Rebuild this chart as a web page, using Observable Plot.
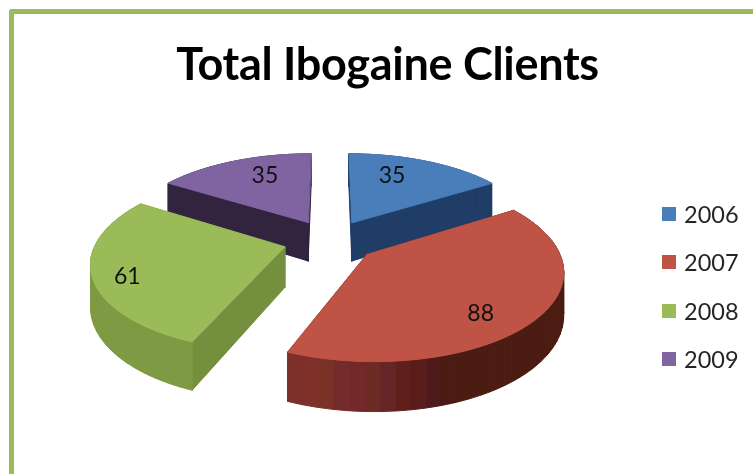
<!DOCTYPE html>
<html>
<head>
<meta charset="utf-8">
<script src="https://cdn.jsdelivr.net/npm/d3@7"></script>
<script src="https://cdn.jsdelivr.net/npm/@observablehq/plot@0.6"></script>
<style>
html,body{margin:0;padding:0;width:753px;height:474px;overflow:hidden;background:#fff;font-family:Lato,sans-serif}
#frame{position:absolute;left:9px;top:9px;width:800px;height:520px;border-top:5px solid #9bbb59;border-left:5px solid #9bbb59;border-top-left-radius:3px;box-sizing:border-box}
#title{position:absolute;left:0;width:775px;top:33px;text-align:center;font-size:45px;line-height:60px;font-weight:700;color:#000;white-space:nowrap;letter-spacing:-0.3px;filter:blur(.4px)}
#plot{position:absolute;left:0;top:0;filter:blur(.4px)}
#legend{position:absolute;left:662px;top:190px;filter:blur(.3px)}
.row{position:absolute;left:0;display:flex;align-items:center;height:28px;white-space:nowrap;font-size:23.5px;color:#262626}
.sw{width:14px;height:14px;margin-right:8px;display:inline-block}
</style>
</head>
<body>
<div id="frame"></div>
<div id="title">Total Ibogaine Clients</div>
<div id="plot"></div>
<div id="legend"></div>
<script>
const years = ["2006", "2007", "2008", "2009"];
const clients = [35, 88, 61, 35];
const topColors = ["#4a7ebb", "#be5346", "#9bbb59", "#8064a2"];
const sideColors = ["#1f3d66", "#6e2a26", "#748f3d", "#32233f"];
// outer wall shading, from the slice's end angle back towards its start; the last shade repeats
const redWall = ["#7d2f2c","#7f3028","#7b3226","#742b2b","#73292a","#6e2b26","#662627","#5f1f1b","#581c1a","#4f1a1b","#4a1c12"];
const greenWall = ["#6f8c3c","#72903e","#76933f","#7a9541","#7e9843","#7d9843","#829e46","#809c44","#7f9b43","#7e9a43"];
const blueWall = ["#1f3d66"];
const purpleWall = ["#32233f"];
const walls = [blueWall, redWall, greenWall, purpleWall];
const labelAlong = [0.376, 0.567, 0.45, 0.60];
const labelRadius = [0.694, 0.789, 0.836, 0.70];

// Pie geometry: unit pie in a tilted plane seen in perspective
const explode = 0.25, persp = 0.16, zoomX = 188, zoomY = 85, stripDeg = 4;
const total = d3.sum(clients);
const rad = Math.PI / 180;
let acc = 0;
const slices = clients.map((v, i) => {
  const a0 = acc / total * 360; acc += v;
  const a1 = acc / total * 360;
  return {i, a0, a1, mid: (a0 + a1) / 2};
});
function project(s, angle, r, low) {
  const ox = explode * Math.sin(s.mid * rad), oy = -explode * Math.cos(s.mid * rad);
  const u = ox + r * Math.sin(angle * rad), v = oy - r * Math.cos(angle * rad);
  const f = 1 / (1 - persp * v);
  const w = v * f;
  return {x: u * f, y: low ? (40 + 92 * w) / zoomY : w};
}
const polys = [];
function add(id, fill, pts) { pts.forEach(p => polys.push({id, fill, x: p.x, y: p.y})); }
function arc(s, a0, a1, low) {
  const n = Math.max(2, Math.ceil(Math.abs(a1 - a0) / 2));
  return d3.range(n + 1).map(k => project(s, a0 + (a1 - a0) * k / n, 1, low));
}
for (const s of [slices[3], slices[0], slices[2], slices[1]]) {
  const shades = walls[s.i];
  const n = Math.ceil((s.a1 - s.a0) / stripDeg);
  // straight cut walls
  for (const [j, a] of [s.a0, s.a1].entries()) {
    add(`c${s.i}-${j}`, sideColors[s.i], [
      project(s, a, 0, false), project(s, a, 1, false),
      project(s, a, 1, true), project(s, a, 0, true)]);
  }
  // outer wall strips
  for (let k = n - 1; k >= 0; k--) {
    const b1 = s.a1 - (s.a1 - s.a0) * k / n;
    const b0 = s.a1 - (s.a1 - s.a0) * (k + 1) / n;
    add(`w${s.i}-${k}`, shades[Math.min(k, shades.length - 1)],
      [...arc(s, b0, b1, false), ...arc(s, b1, b0, true)]);
  }
  // top face
  add(`t${s.i}`, topColors[s.i], [project(s, s.a0, 0, false), ...arc(s, s.a0, s.a1, false)]);
}

const labels = slices.map((s, i) => {
  const p = project(s, s.a0 + (s.a1 - s.a0) * labelAlong[i], labelRadius[i], false);
  return {x: p.x, y: p.y, text: String(clients[i])};
});

const chart = Plot.plot({
  width: 753, height: 474,
  marginTop: 0, marginRight: 0, marginBottom: 0, marginLeft: 0,
  style: {background: "transparent", overflow: "visible"},
  x: {domain: [-329.5 / zoomX, (753 - 329.5) / zoomX], range: [0, 753], axis: null},
  y: {domain: [-240 / zoomY, (474 - 240) / zoomY], range: [0, 474], axis: null},
  marks: [
    Plot.line(polys, {x: "x", y: "y", z: "id", fill: "fill", stroke: "fill", strokeWidth: 1, curve: "linear-closed"}),
    Plot.text(labels, {x: "x", y: "y", text: "text", fontSize: 23, fontFamily: "Lato, sans-serif", fill: "#111"})
  ]
});
document.getElementById("plot").appendChild(chart);

const legend = document.getElementById("legend");
years.forEach((y, i) => {
  const row = document.createElement("div");
  row.className = "row";
  row.style.top = (10 + i * 48.3) + "px";
  const sw = document.createElement("span");
  sw.className = "sw";
  sw.style.background = topColors[i];
  row.appendChild(sw);
  row.appendChild(document.createTextNode(y));
  legend.appendChild(row);
});
</script>
</body>
</html>
